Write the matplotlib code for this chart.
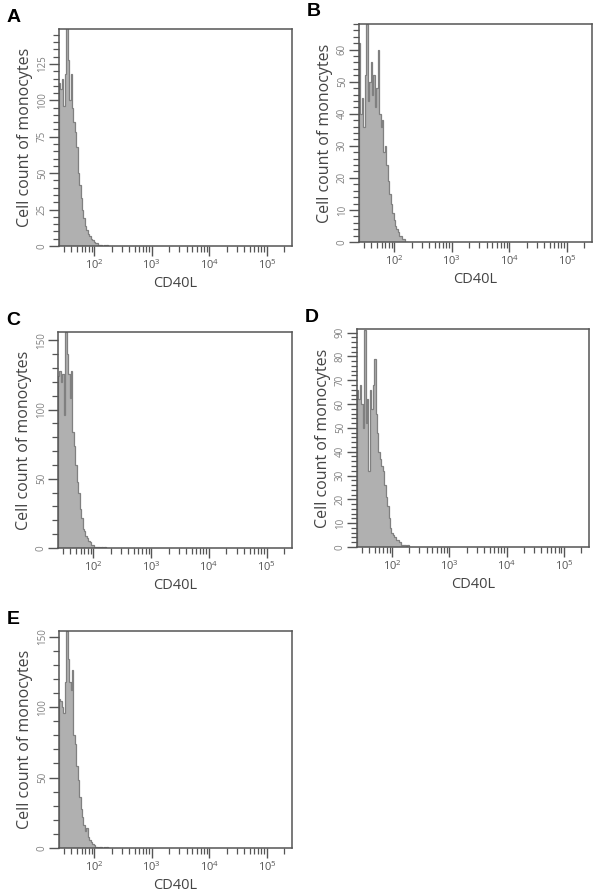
import numpy as np
import matplotlib.pyplot as plt
from matplotlib.ticker import MultipleLocator, LogLocator, NullFormatter

plt.rcParams['font.family'] = ['Open Sans', 'DejaVu Sans']
plt.rcParams['mathtext.default'] = 'regular'

# histogram counts per log bin
counts_a = [112, 108, 115, 96, 118, 150, 128, 100, 118, 95, 85, 78, 68, 50, 42, 33,
            25, 19, 14, 11, 8, 7, 5, 4, 3, 2, 2, 1, 1, 1, 0, 1, 0, 1]
counts_b = [62, 40, 45, 36, 52, 68, 44, 50, 56, 46, 52, 42, 48, 60, 40, 36, 38, 28,
            30, 24, 19, 15, 12, 9, 7, 5, 4, 3, 2, 2, 1, 1, 0, 0]
counts_c = [124, 128, 120, 126, 96, 156, 140, 126, 108, 128, 84, 74, 60, 48, 40, 28,
            22, 14, 12, 9, 7, 5, 4, 2, 2, 1, 1, 1, 1, 0, 1, 0, 1, 0]
counts_d = [66, 62, 68, 60, 50, 91, 52, 62, 32, 66, 58, 68, 79, 56, 48, 40, 37, 34,
            32, 26, 21, 17, 12, 8, 6, 5, 4, 3, 3, 2, 2, 1, 1, 1, 0, 1]
counts_e = [106, 104, 100, 96, 118, 154, 134, 118, 112, 126, 80, 74, 58, 48, 36, 28,
            22, 16, 12, 14, 8, 6, 4, 3, 2, 1, 1, 0, 1, 1, 0, 1, 0, 1]

panel_letters = ['A', 'B', 'C', 'D', 'E']
all_counts = [counts_a, counts_b, counts_c, counts_d, counts_e]
y_max = [149, 68, 156, 91.5, 154]
y_major = [25, 10, 50, 10, 50]
y_minor = [5, 2, 10, 2, 10]

bin_start = 1.387   # log10 of first bin edge
bin_width = 0.025   # bin width in decades
x_min, x_max = 10 ** 1.387, 10 ** 5.434

W, H = 602, 894
# axes boxes in pixels: left, top, right, bottom
boxes = [(59, 29, 292, 246), (359, 24, 592, 242), (58, 332, 292, 548),
         (357, 329, 589, 547), (59, 631, 292, 848)]

fig = plt.figure(figsize=(W / 100, H / 100), dpi=100)

for letter, counts, ym, ymaj, ymin, (l, t, r, b) in zip(panel_letters, all_counts, y_max,
                                                        y_major, y_minor, boxes):
    ax = fig.add_axes([l / W, 1 - b / H, (r - l) / W, (b - t) / H])
    edges = 10 ** (bin_start + bin_width * np.arange(len(counts) + 1))
    ax.stairs(counts, edges, fill=True, color='#b0b0b0')
    ax.stairs(counts, edges, color='#808080', linewidth=0.9)

    ax.set_xscale('log')
    ax.set_xlim(x_min, x_max)
    ax.set_ylim(0, ym)
    ax.xaxis.set_major_locator(LogLocator(base=10, numticks=10))
    ax.xaxis.set_minor_locator(LogLocator(base=10, subs=np.arange(2, 10), numticks=20))
    ax.xaxis.set_minor_formatter(NullFormatter())
    ax.yaxis.set_major_locator(MultipleLocator(ymaj))
    ax.yaxis.set_minor_locator(MultipleLocator(ymin))

    ax.tick_params(axis='x', which='major', length=7, width=1, color='#555555',
                   labelsize=8, labelcolor='#555555', pad=2)
    ax.tick_params(axis='x', which='minor', length=4, width=0.9, color='#555555')
    ax.tick_params(axis='y', which='major', length=7, width=1, color='#555555',
                   labelsize=7, labelcolor='#808080', labelrotation=90, pad=1)
    ax.tick_params(axis='y', which='minor', length=4, width=0.9, color='#555555')
    for lab in ax.get_yticklabels():
        lab.set_verticalalignment('center')

    for sp in ax.spines.values():
        sp.set_color('#555555')
        sp.set_linewidth(1.1)

    ax.set_ylabel('Cell count of monocytes', fontsize=11.5, color='#444444', labelpad=3)
    ax.set_xlabel('CD40L', fontsize=10.5, color='#444444', labelpad=3)

    fig.text((l - 52) / W, 1 - (t - 12) / H, letter, fontsize=14, fontweight='bold',
             family='Liberation Sans', ha='left', va='center')

fig.savefig('out.png', dpi=100)
